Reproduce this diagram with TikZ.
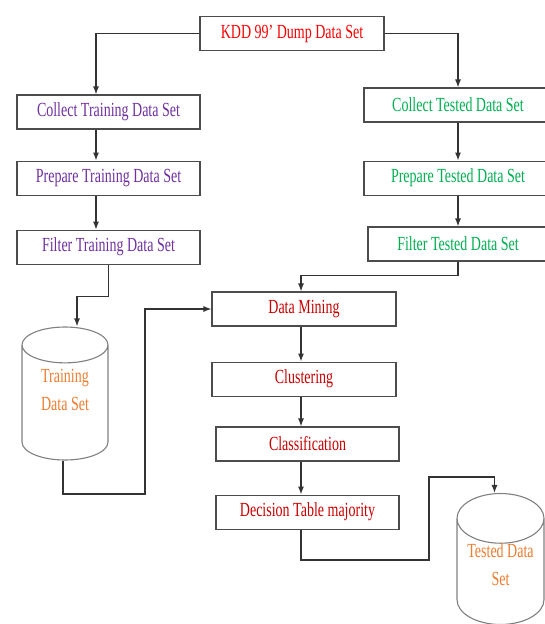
\documentclass[tikz,border=0pt]{standalone}
\usepackage{fontspec}
\setmainfont[FakeStretch=0.7]{Liberation Serif}
\usepackage{xcolor}
\usepackage{tikz}
\usetikzlibrary{shapes,arrows,arrows.meta,positioning,fit,calc}

\definecolor{kddred}{RGB}{250,0,0}
\definecolor{trainpurple}{RGB}{112,48,160}
\definecolor{testgreen}{RGB}{0,176,80}
\definecolor{minered}{RGB}{200,0,0}
\definecolor{storeorange}{RGB}{237,125,49}

\begin{document}
\begin{tikzpicture}[x=1pt, y=-1pt, >={Latex[length=8pt,width=6pt]}, line width=1.2pt, draw=black!80,
    box/.style={rectangle, draw=black!70, line width=1.1pt, minimum height=34pt, inner sep=0pt,
        font=\fontsize{20}{28}\selectfont},
    store/.style={cylinder, shape border rotate=90, aspect=0.75, draw=black!50, line width=1.1pt,
        fill=white, align=center, inner sep=0pt, text=storeorange, anchor=shape center,
        font=\fontsize{20}{28}\selectfont}]
    \useasboundingbox (0,0) rectangle (545,624);

    \node (kdd) [box, minimum width=184pt, text=kddred] at (292,33.5) {KDD 99’ Dump Data Set};

    % training side
    \node (ct) [box, minimum width=183pt, text=trainpurple] at (108.5,112) {Collect Training Data Set};
    \node (pt) [box, minimum width=183pt, text=trainpurple, below=31pt of ct] {Prepare Training Data Set};
    \node (ft) [box, minimum width=183pt, text=trainpurple, below=34pt of pt] {Filter Training Data Set};
    \node (trs) [store, minimum width=86pt, minimum height=133pt] at (65,393.5) {Training\\Data Set\\[-3pt]\mbox{}};

    % tested side
    \node (cs) [box, minimum width=188pt, text=testgreen] at (458,105) {Collect Tested Data Set};
    \node (ps) [box, minimum width=188pt, text=testgreen, below=38pt of cs] {Prepare Tested Data Set};
    \node (fs) [box, minimum width=180pt, text=testgreen] at (458,244) {Filter Tested Data Set};

    % mining
    \node (dm) [box, minimum width=184pt, text=minered] at (304,309) {Data Mining};
    \node (cl) [box, minimum width=184pt, text=minered, below=35pt of dm] {Clustering};
    \node (cf) [box, minimum width=183pt, text=minered] at (307.5,444) {Classification};
    \node (dt) [box, minimum width=183pt, text=minered, below=33pt of cf] {Decision Table majority};
    \node (tss) [store, minimum width=87pt, minimum height=128pt] at (500.5,559) {Tested Data\\Set\\[-14pt]\mbox{}};

    \coordinate (lx) at (96,0);
    \coordinate (mx) at (301,0);
    \coordinate (tj) at (145,494);
    \coordinate (dj) at (429,560);
    \coordinate (dk) at (429,477);

    \draw [->] (kdd.west) -| (lx |- ct.north);
    \draw [->] (lx |- ct.south) -- (lx |- pt.north);
    \draw [->] (lx |- pt.south) -- (lx |- ft.north);
    \draw [->] (kdd.east) -| (cs.north);
    \draw [->] (cs) -- (ps);
    \draw [->] (ps) -- (fs);
    \draw [->] (fs.south) -- ++(0,14) -| (mx |- dm.north);
    \draw [->] (ft.south) -- ++(0,32) -| ($(trs.north)+(12,0)$);
    \draw [->] ($(trs.south)+(-2,0)$) |- (tj) |- (dm.west);
    \draw [->] (mx |- dm.south) -- (mx |- cl.north);
    \draw [->] (mx |- cl.south) -- (mx |- cf.north);
    \draw [->] (mx |- cf.south) -- (mx |- dt.north);
    \draw [->] (mx |- dt.south) |- (dj) -- (dk) -| ($(tss.north)+(-6,0)$);
\end{tikzpicture}
\end{document}
